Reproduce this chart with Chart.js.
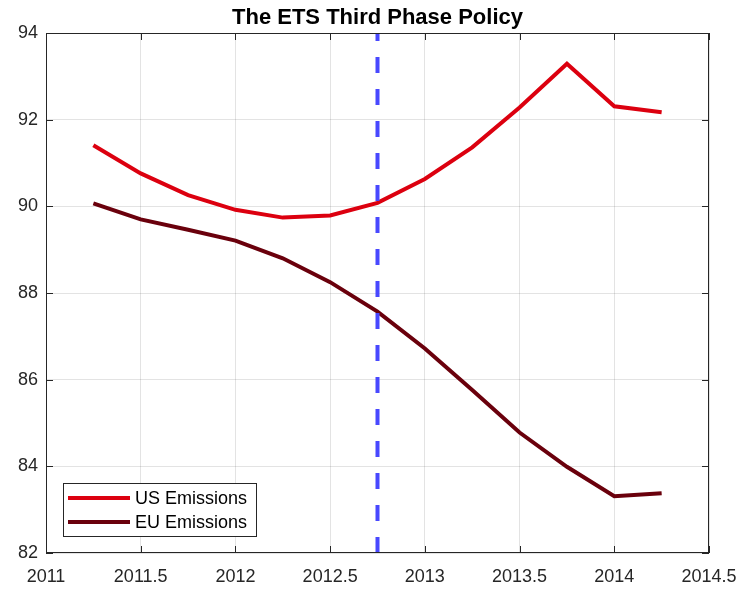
<!DOCTYPE html>
<html>
<head>
<meta charset="utf-8">
<script src="https://cdn.jsdelivr.net/npm/chart.js@4"></script>
<style>
  body { margin: 0; background: #fff; }
  canvas { display: block; }
</style>
</head>
<body>
<canvas id="myChart" width="744" height="591"></canvas>
<script>
var years = [2011.25, 2011.5, 2011.75, 2012, 2012.25, 2012.5, 2012.75, 2013, 2013.25, 2013.5, 2013.75, 2014, 2014.25],
  usEmissions = [91.41, 90.76, 90.26, 89.92, 89.74, 89.79, 90.08, 90.63, 91.36, 92.28, 93.29, 92.31, 92.17],
  euEmissions = [90.07, 89.70, 89.46, 89.21, 88.80, 88.25, 87.57, 86.72, 85.76, 84.78, 83.99, 83.31, 83.38],
  policyYear = 2012.75,
  xTicks = [2011, 2014.5, 0.5],
  yTicks = [82, 94, 2],
  title = "The ETS Third Phase Policy";

var font = "'Liberation Sans', Arial, sans-serif",
  axisColor = "#262626";

function points(xs, ys) {
  return xs.map(function(x, i) { return { x: x, y: ys[i] }; });
}

// box round the plot, ticks pointing inwards, legend inside, title over the plot
var matlabBox = {
  id: "matlabBox",
  afterDatasetsDraw: function(chart) {
    var c = chart.ctx, a = chart.chartArea,
      sx = chart.scales.x, sy = chart.scales.y, tl = 7;
    c.save();
    c.strokeStyle = axisColor;
    c.lineWidth = 1;
    c.strokeRect(a.left + 0.5, a.top + 0.5, a.right - a.left - 1, a.bottom - a.top - 1);
    c.beginPath();
    sx.ticks.forEach(function(t) {
      var px = Math.round(sx.getPixelForValue(t.value)) + 0.5;
      c.moveTo(px, a.bottom); c.lineTo(px, a.bottom - tl);
      c.moveTo(px, a.top); c.lineTo(px, a.top + tl);
    });
    sy.ticks.forEach(function(t) {
      var py = Math.round(sy.getPixelForValue(t.value)) + 0.5;
      c.moveTo(a.left, py); c.lineTo(a.left + tl, py);
      c.moveTo(a.right, py); c.lineTo(a.right - tl, py);
    });
    c.stroke();

    c.fillStyle = "#000";
    c.font = "bold 22px " + font;
    c.textAlign = "center";
    c.textBaseline = "middle";
    c.fillText(title, (a.left + a.right) / 2, 18);

    // legend
    var lx = a.left + 17, ly = a.bottom - 70, lw = 193, lh = 53;
    c.fillStyle = "#fff";
    c.fillRect(lx, ly, lw, lh);
    c.strokeStyle = axisColor;
    c.strokeRect(lx + 0.5, ly + 0.5, lw, lh);
    c.font = "18px " + font;
    c.textAlign = "left";
    [0, 1].forEach(function(i) {
      var ds = chart.data.datasets[i], yy = ly + 15 + i * 24;
      c.strokeStyle = ds.borderColor;
      c.lineWidth = 4;
      c.beginPath();
      c.moveTo(lx + 5, yy); c.lineTo(lx + 67, yy);
      c.stroke();
      c.fillStyle = "#000";
      c.fillText(ds.label, lx + 72, yy + 1);
    });
    c.restore();
  }
};

var config = {
  type: "line",
  data: {
    datasets: [
      {
        label: "US Emissions",
        data: points(years, usEmissions),
        borderColor: "#dc000f",
        borderWidth: 4,
        pointRadius: 0,
        order: 2
      },
      {
        label: "EU Emissions",
        data: points(years, euEmissions),
        borderColor: "#6a000c",
        borderWidth: 4,
        pointRadius: 0,
        order: 1
      },
      {
        label: "policy",
        data: points([policyYear, policyYear], [yTicks[0], yTicks[1]]),
        borderColor: "#4848ff",
        borderWidth: 4,
        borderDash: [16, 16],
        borderCapStyle: "butt",
        pointRadius: 0,
        order: 0
      }
    ]
  },
  options: {
    responsive: false,
    animation: false,
    layout: { padding: { left: 0, right: 35, top: 33, bottom: 0 } },
    plugins: {
      legend: { display: false },
      tooltip: { enabled: false },
      title: { display: false }
    },
    scales: {
      x: {
        type: "linear",
        min: xTicks[0],
        max: xTicks[1],
        afterFit: function(s) {
          s.height = 38;
          s.paddingLeft = 0;
          s.paddingRight = 0;
        },
        ticks: {
          stepSize: xTicks[2],
          padding: 13,
          color: axisColor,
          maxRotation: 0,
          font: { family: font, size: 18 },
          callback: function(v) { return String(v); }
        },
        grid: { color: "rgba(38,38,38,0.13)", drawTicks: false },
        border: { display: false }
      },
      y: {
        min: yTicks[0],
        max: yTicks[1],
        afterFit: function(s) {
          s.width = 46;
          s.paddingTop = 0;
          s.paddingBottom = 0;
        },
        ticks: {
          stepSize: yTicks[2],
          padding: 8,
          color: axisColor,
          font: { family: font, size: 18 },
          callback: function(v) { return String(v); }
        },
        grid: { color: "rgba(38,38,38,0.13)", drawTicks: false },
        border: { display: false }
      }
    }
  },
  plugins: [matlabBox]
};

var myChart = new Chart(document.getElementById("myChart"), config);
</script>
</body>
</html>
